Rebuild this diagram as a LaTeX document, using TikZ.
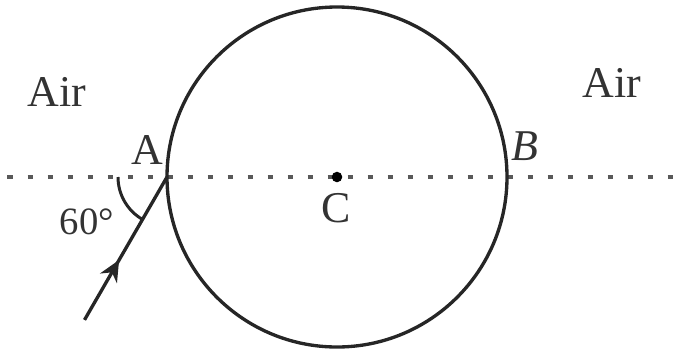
\documentclass[tikz,border=0pt]{standalone}
\usepackage{fontspec}
\setmainfont{Liberation Serif}
\usetikzlibrary{arrows.meta,calc,decorations.markings}

\begin{document}
\begin{tikzpicture}[
  >=Stealth,
  lens/.style={draw,line width=1.9pt,black!85},
  axis/.style={line width=2pt,gray!70!black,dash pattern=on 0.1cm off 0.3cm},
  ray/.style={line width=1.9pt,black!85,
    postaction={decorate},
    decoration={markings,mark=at position 0.42 with {\arrow{Stealth[length=12pt,width=11pt]}}}},
  lbl/.style={font=\fontsize{25}{28}\selectfont,inner sep=1pt,black!80},
]
\useasboundingbox (0,0) rectangle (13.72,7);

% --- points ---
\coordinate (C) at (6.74,3.46);
\coordinate (A) at (3.34,3.46);
\coordinate (B) at (10.14,3.46);
\coordinate (S) at ($(A)+(240:3.3)$);
\coordinate (L) at (0.15,3.46);
\coordinate (R) at (13.72,3.46);

% --- sphere and axis ---
\draw[axis] (L) -- (R);
\draw[lens] (C) circle (3.4);
\fill (C) circle (3pt);

% --- incident ray ---
\draw[ray] (S) -- (A);
\draw[line width=1.7pt,black!85] ($(A)+(180:0.98)$) arc (180:240:0.98);

% --- labels ---
\node[lbl] (airl) at (1.14,5.16) {Air};
\node[lbl] (airr) at (12.24,5.34) {Air};
\node[lbl] (lA) at (2.94,4.0) {A};
\node[lbl] (lB) at (10.5,4.08) {\textit{B}};
\node[lbl] (lC) at (6.72,2.84) {C};
\node[lbl,font=\fontsize{22}{26}\selectfont] (ang) at (1.74,2.56) {60°};
\end{tikzpicture}
\end{document}
